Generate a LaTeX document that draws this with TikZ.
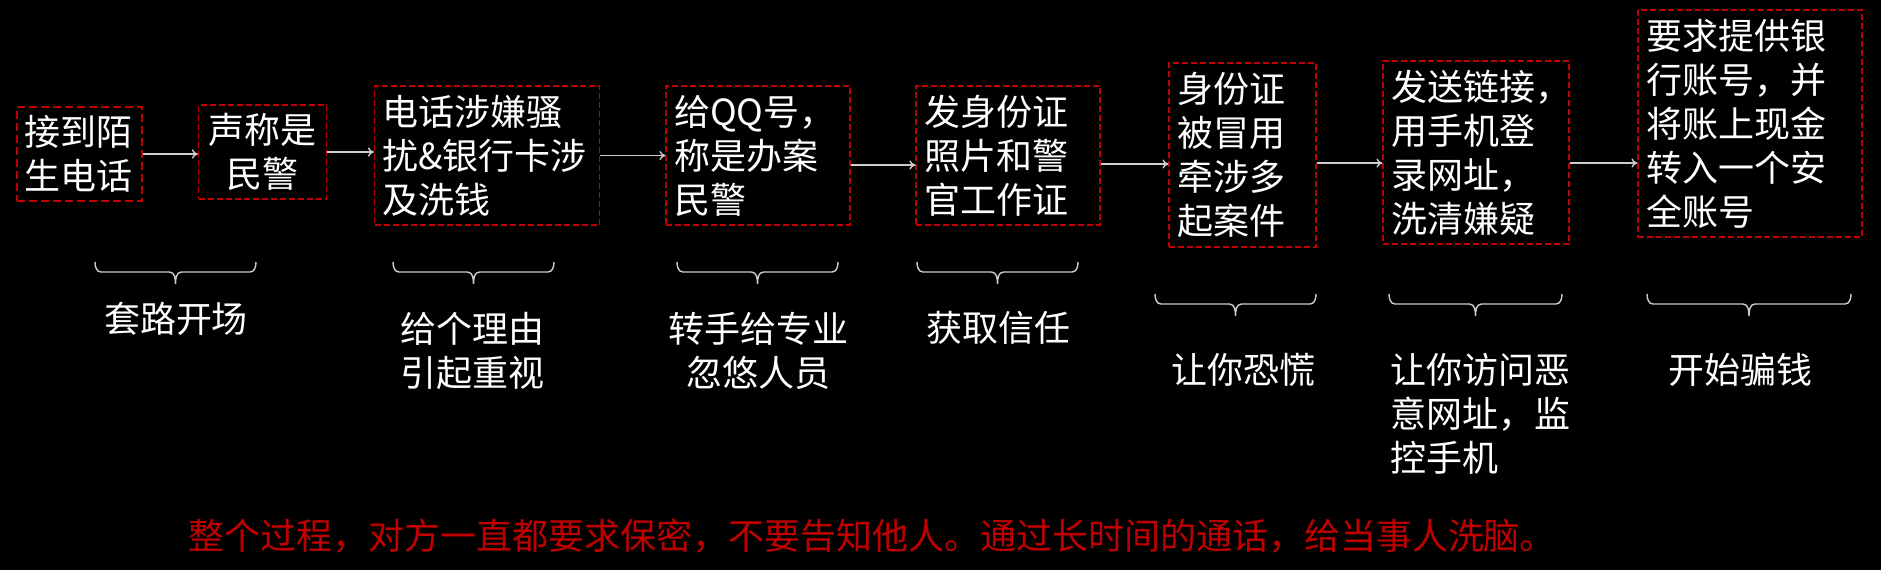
\documentclass[tikz,border=0pt]{standalone}
\usepackage{fontspec}
\setmainfont{Noto Sans CJK SC}
\usetikzlibrary{arrows.meta,calc}
\definecolor{boxred}{RGB}{192,0,0}
\definecolor{lgray}{RGB}{205,205,205}
\newcommand\flatbrace[3]{%
  \pgfmathsetmacro\fbmid{(#1+#2)/2}%
  \pgfmathsetmacro\fbmidl{\fbmid-6}%
  \pgfmathsetmacro\fbmidr{\fbmid+6}%
  \pgfmathsetmacro\fbl{#1+6}%
  \pgfmathsetmacro\fbr{#2-6}%
  \pgfmathsetmacro\fby{#3+10}%
  \pgfmathsetmacro\fbt{#3+22}%
  \draw[brc] (#1,#3) to[out=-90,in=180] (\fbl,\fby) -- (\fbmidl,\fby)
    to[out=0,in=90] (\fbmid,\fbt)
    to[out=90,in=180] (\fbmidr,\fby) -- (\fbr,\fby)
    to[out=0,in=-90] (#2,#3);}
\begin{document}
\begin{tikzpicture}[x=0.5pt,y=-0.5pt,
  every node/.style={font=\fontsize{18pt}{22pt}\selectfont, text=white, inner sep=0pt},
  stepbox/.style={draw=boxred, line width=0.6pt, dash pattern=on 3pt off 1.5pt, inner xsep=4pt, inner ysep=0pt, align=left},
  firstbox/.style={stepbox, line width=1.2pt, dash pattern=on 4pt off 2pt},
  arr/.style={draw=lgray, line width=0.7pt, -{To[length=3pt,width=4.5pt]}},
  brc/.style={draw=lgray, line width=0.7pt},
  lbl/.style={align=center},
  note/.style={text=boxred}]
\fill[black] (0,0) rectangle (1881,570);
\useasboundingbox (0,0) rectangle (1881,570);

% boxes
\node[firstbox, minimum width=62.5pt, minimum height=47pt, text width=54.5pt] (b1) at (79.5,154) {接到陌\\生电话};
\node[stepbox, align=center, minimum width=64pt, minimum height=47pt, text width=56pt] (b2) at (262.5,152) {声称是\\民警};
\node[stepbox, minimum width=112.5pt, minimum height=69.5pt, text width=104.5pt] (b3) at (487,155.5) {电话涉嫌骚\\扰\&银行卡涉\\及洗钱};
\node[stepbox, minimum width=92pt, minimum height=69.5pt, text width=84pt] (b4) at (758,155.5) {给QQ号，\\称是办案\\民警};
\node[stepbox, minimum width=92pt, minimum height=69.5pt, text width=84pt] (b5) at (1008,155.5) {发身份证\\照片和警\\官工作证};
\node[stepbox, minimum width=73.5pt, minimum height=92pt, text width=65.5pt] (b6) at (1242.5,155) {身份证\\被冒用\\牵涉多\\起案件};
\node[stepbox, minimum width=93pt, minimum height=91.5pt, text width=85pt] (b7) at (1476,152.5) {发送链接，\\用手机登\\录网址，\\洗清嫌疑};
\node[stepbox, minimum width=112pt, minimum height=113.5pt, text width=104pt] (b8) at (1750,123.5) {要求提供银\\行账号，并\\将账上现金\\转入一个安\\全账号};

% arrows
\draw[arr] (b1.east) -- (b1.east -| b2.west);
\draw[arr] (b2.east) -- (b2.east -| b3.west);
\draw[arr] (b3.east) -- (b3.east -| b4.west);
\draw[arr] ([yshift=-4.75pt]b4.east) -- ([yshift=-4.75pt]b4.east -| b5.west);
\draw[arr] ([yshift=-4.25pt]b5.east) -- ([yshift=-4.25pt]b5.east -| b6.west);
\draw[arr] ([yshift=-4pt]b6.east) -- ([yshift=-4pt]b6.east -| b7.west);
\draw[arr] ([yshift=-5.25pt]b7.east) -- ([yshift=-5.25pt]b7.east -| b8.west);

% braces
\flatbrace{95}{256}{262}
\flatbrace{393}{554}{262}
\flatbrace{677}{838}{262}
\flatbrace{917}{1078}{262}
\flatbrace{1155}{1316}{294}
\flatbrace{1389}{1562}{294}
\flatbrace{1647}{1851}{294}

% labels
\node[lbl] (l1) at (176,319) {套路开场};
\node[lbl] (l2) at (472,351) {给个理由\\引起重视};
\node[lbl] (l3) at (758,351) {转手给专业\\忽悠人员};
\node[lbl] (l4) at (998,328) {获取信任};
\node[lbl] (l5) at (1243,370) {让你恐慌};
\node[align=left] (l6) at (1480,413.5) {让你访问恶\\意网址，监\\控手机};
\node[lbl] (l7) at (1740,370) {开始骗钱};

\node[note] (n) at (872,536) {整个过程，对方一直都要求保密，不要告知他人。通过长时间的通话，给当事人洗脑。};
\end{tikzpicture}
\end{document}
